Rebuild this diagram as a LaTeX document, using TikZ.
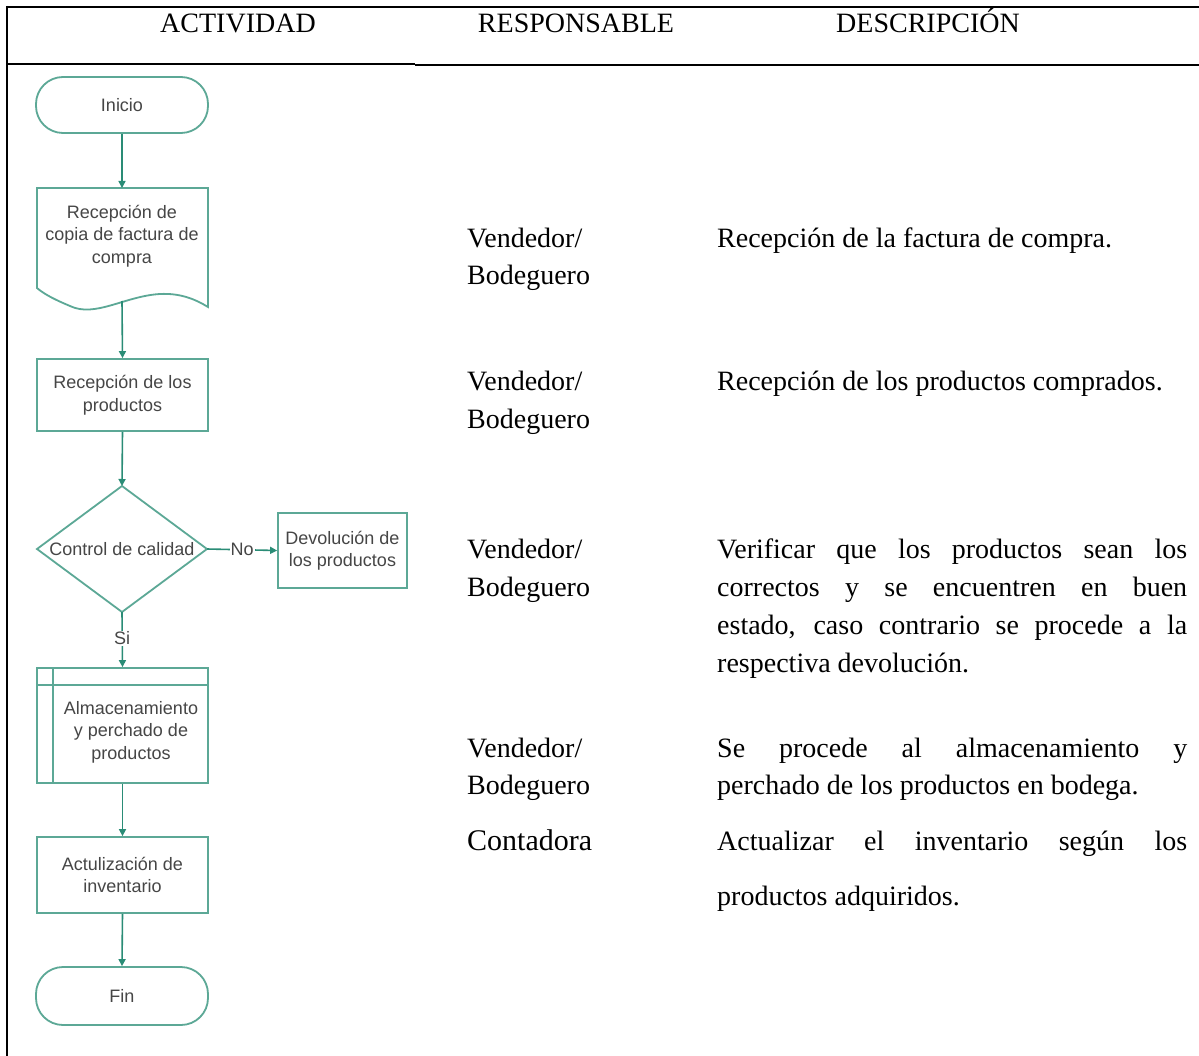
\documentclass[tikz,border=0pt]{standalone}
\usepackage{fontspec}
\setmainfont{Liberation Serif}
\newfontfamily\flowfont{Liberation Sans}
\usetikzlibrary{arrows.meta}
\definecolor{fborder}{RGB}{92,168,150}
\definecolor{farrow}{RGB}{42,140,118}
\definecolor{ftext}{RGB}{70,70,70}
\tikzset{
  ruleline/.style={line width=2pt, black},
  hdr/.style={anchor=base, font=\fontsize{28}{34}\selectfont, inner sep=0pt},
  body/.style={anchor=base west, font=\fontsize{28}{37}\selectfont, inner sep=0pt},
  fshape/.style={draw=fborder, line width=1.8pt, fill=white},
  ftxt/.style={font=\flowfont\fontsize{18}{22.5}\selectfont, text=ftext, align=center, inner sep=0pt},
  terminal/.style={fshape, rounded corners=27pt, minimum width=172pt, inner sep=0pt},
  flow/.style={draw=farrow, line width=1.6pt, -{Triangle[length=7pt,width=7pt]}},
  lbl/.style={font=\flowfont\fontsize{18}{22}\selectfont, text=ftext, fill=white, inner sep=1pt}
}
\newcommand{\jline}[1]{\makebox[470pt][s]{#1}}
\begin{document}
\begin{tikzpicture}[x=1pt,y=-1pt]
\useasboundingbox (0,0) rectangle (1199,1056);
\fill[white] (0,0) rectangle (1199,1056);
% table rules
\draw[ruleline] (7,7) -- (1199,7);
\draw[ruleline] (7,6) -- (7,1056);
\draw[line width=1.3pt] (7,64) -- (415,64);
\draw[ruleline] (415,65) -- (1199,65);
% header
\node[hdr] (h1) at (238,33) {ACTIVIDAD};
\node[hdr] (h2) at (576,33) {RESPONSABLE};
\node[hdr] (h3) at (928,33) {DESCRIPCIÓN};
% flowchart shapes
\node[terminal, minimum height=56pt] (inicio) at (122,105) {};
\node[ftxt] at (inicio.center) {Inicio};
\draw[fshape] (37,188) -- (208,188) -- (208,307) .. controls (195,299) and (180,293) .. (160,294) .. controls (125,296) and (95,318) .. (70,306) .. controls (58,301) and (45,295) .. (37,288) -- cycle;
\node[ftxt] (doc) at (122,236) {Recepción de\\copia de factura de\\compra};
\coordinate (docT) at (122,188);
\coordinate (docB) at (122,301);
\node[fshape, minimum width=171pt, minimum height=72pt, inner sep=0pt] (rec) at (122.5,395) {};
\node[ftxt] at (rec.center) {Recepción de los\\productos};
\draw[fshape] (122,486) -- (207,549) -- (122,612) -- (37,549) -- cycle;
\node[ftxt] (ctrl) at (122,549) {Control de calidad};
\coordinate (diaT) at (122,486);
\coordinate (diaR) at (207,549);
\coordinate (diaB) at (122,612);
\node[fshape, minimum width=129pt, minimum height=75pt, inner sep=0pt] (dev) at (342.5,550.5) {};
\node[ftxt] at (dev.center) {Devolución de\\los productos};
\node[fshape, minimum width=171pt, minimum height=115pt, inner sep=0pt] (alm) at (122.5,725.5) {};
\draw[fborder, line width=1.8pt] (53,668) -- (53,783);
\draw[fborder, line width=1.8pt] (37,685) -- (208,685);
\node[ftxt] (almt) at (131,732) {Almacenamiento\\y perchado de\\productos};
\node[fshape, minimum width=171pt, minimum height=76pt, inner sep=0pt] (act) at (122.5,875) {};
\node[ftxt] at (act.center) {Actulización de\\inventario};
\node[terminal, minimum height=58pt] (fin) at (122,996) {};
\node[ftxt] at (fin.center) {Fin};
% connectors
\draw[flow] (inicio.south) -- (docT);
\draw[flow] (docB) -- (rec.north);
\draw[flow] (rec.south) -- (diaT);
\draw[flow] (diaR) -- node[lbl, pos=0.5] (no) {No} (dev.west);
\draw[flow] (diaB) -- node[lbl, pos=0.48] (si) {Si} (alm.north);
\draw[flow] (alm.south) -- (act.north);
\draw[flow] (act.south) -- (fin.north);
% responsable column
\node[body] (r1a) at (467,248) {Vendedor/};
\node[body] (r1b) at (467,285) {Bodeguero};
\node[body] (r2a) at (467,391) {Vendedor/};
\node[body] (r2b) at (467,428) {Bodeguero};
\node[body] (r3a) at (467,558) {Vendedor/};
\node[body] (r3b) at (467,596) {Bodeguero};
\node[body] (r4a) at (467,757) {Vendedor/};
\node[body] (r4b) at (467,794) {Bodeguero};
\node[body, font=\fontsize{30}{37}\selectfont] (r5a) at (467,850) {Contadora};
% description column
\node[body] (d1) at (717,248) {Recepción de la factura de compra.};
\node[body] (d2) at (717,391) {Recepción de los productos comprados.};
\node[body] (d3a) at (717,558) {\jline{Verificar que los productos sean los}};
\node[body] (d3b) at (717,596) {\jline{correctos y se encuentren en buen}};
\node[body] (d3c) at (717,634) {\jline{estado, caso contrario se procede a la}};
\node[body] (d3d) at (717,672) {respectiva devolución.};
\node[body] (d4a) at (717,757) {\jline{Se procede al almacenamiento y}};
\node[body] (d4b) at (717,794) {perchado de los productos en bodega.};
\node[body] (d5a) at (717,850) {\jline{Actualizar el inventario según los}};
\node[body] (d5b) at (717,905) {productos adquiridos.};
\end{tikzpicture}
\end{document}
